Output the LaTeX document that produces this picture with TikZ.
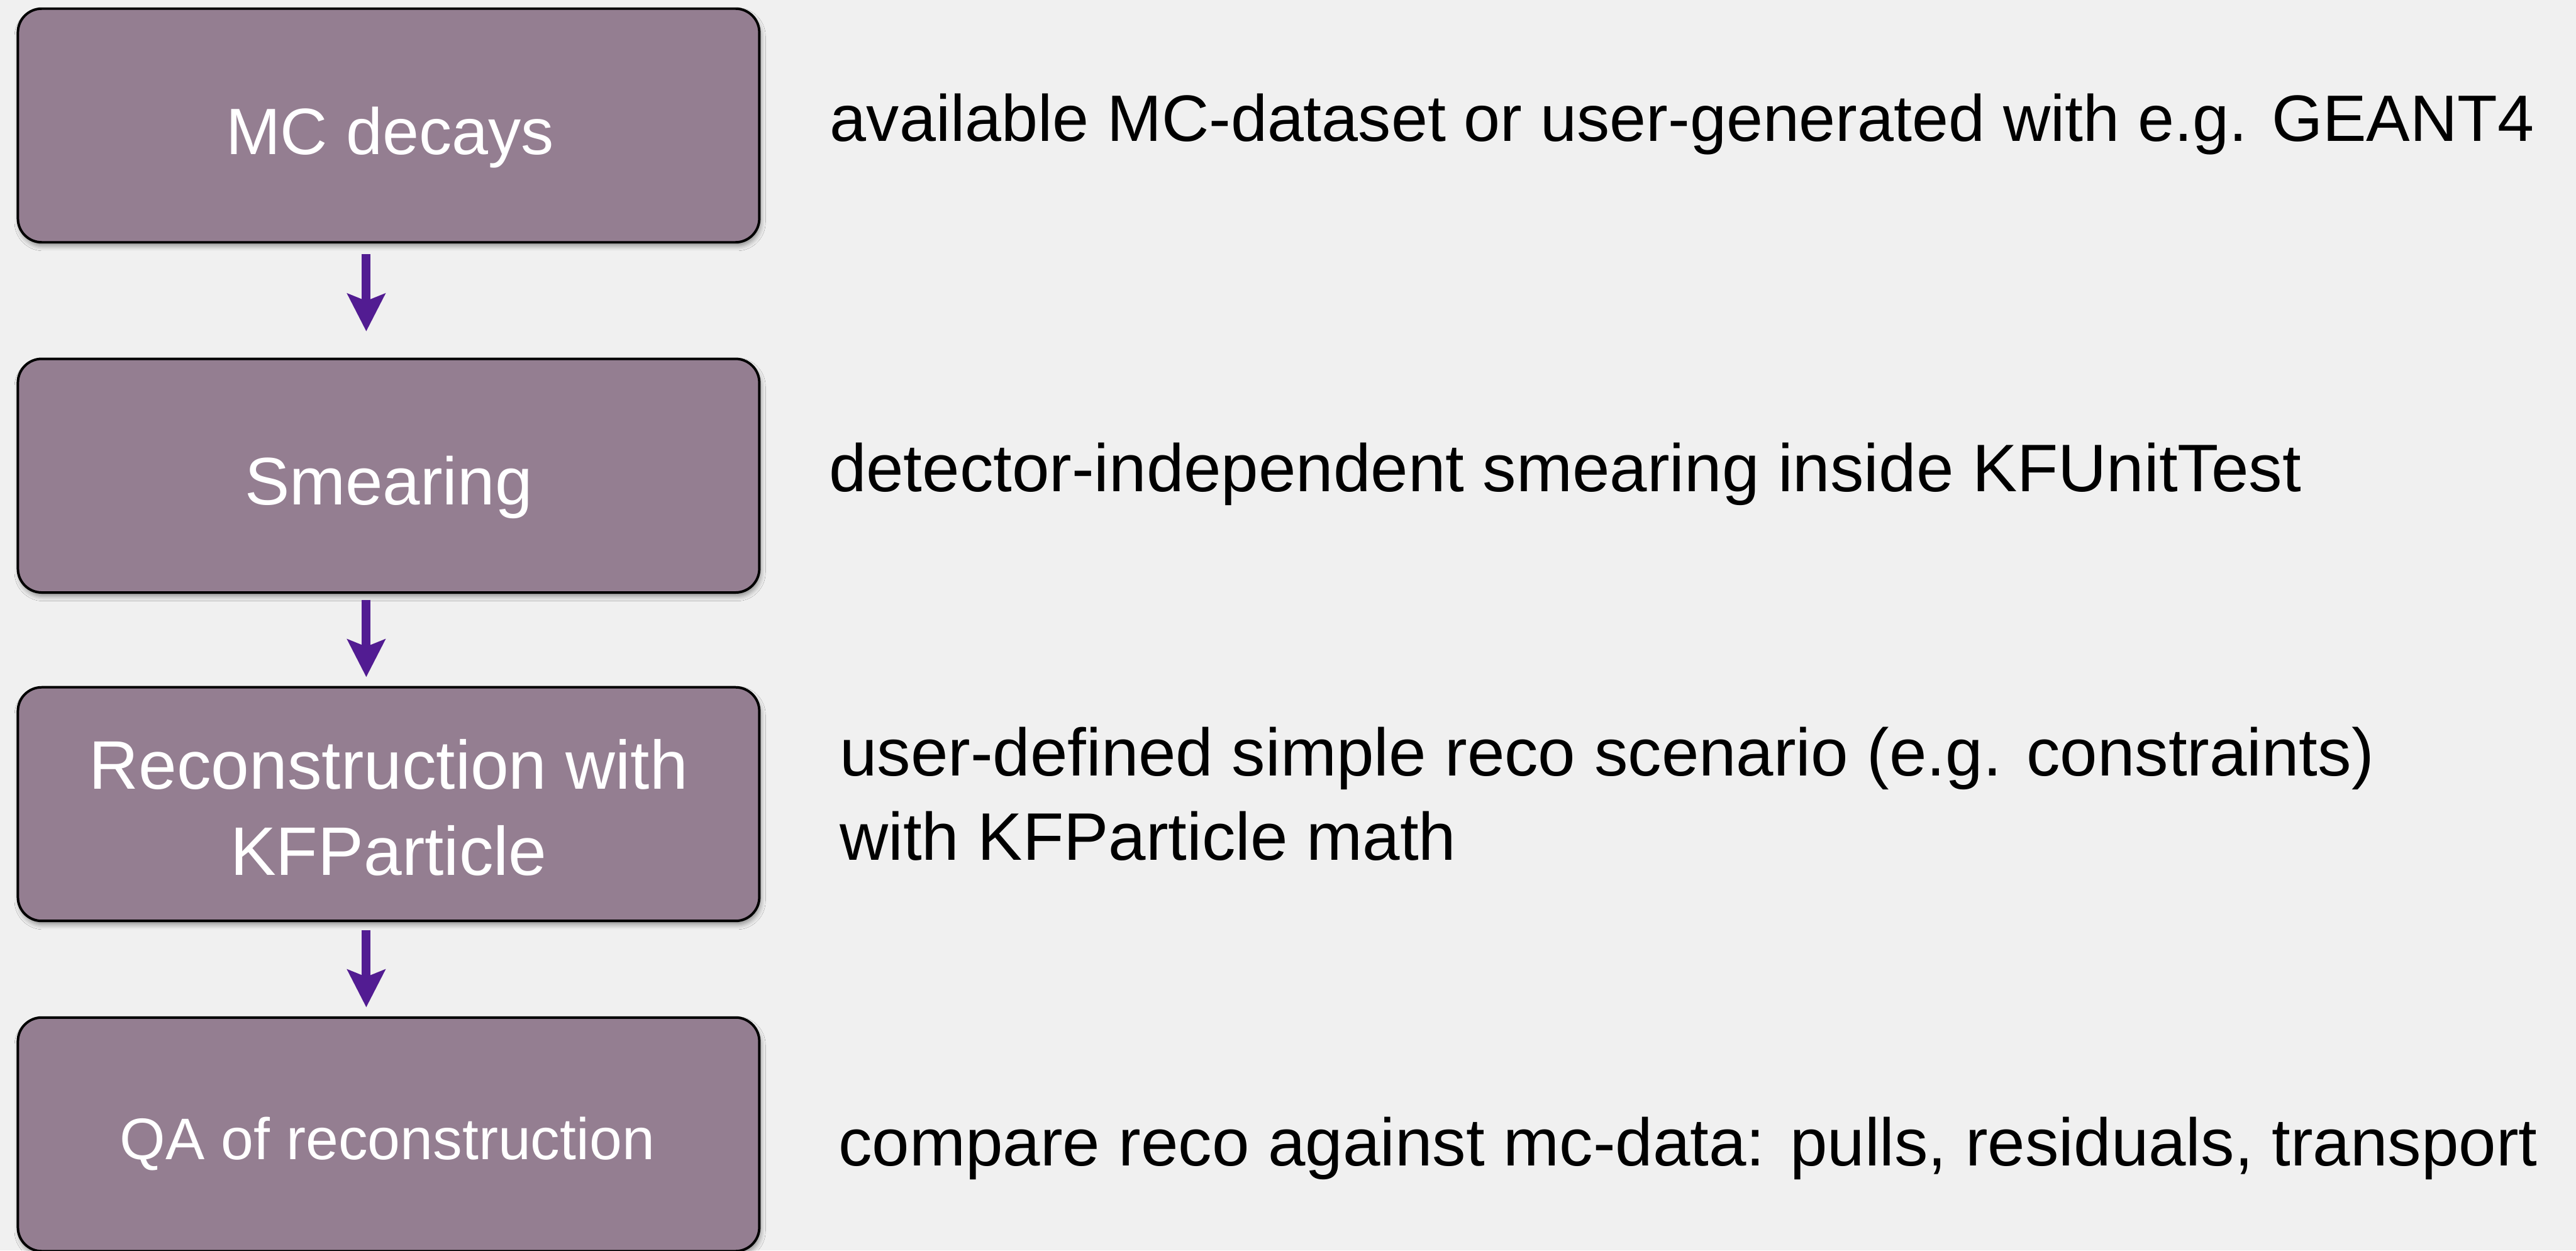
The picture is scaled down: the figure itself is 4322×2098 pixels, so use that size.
\documentclass[tikz,border=0pt]{standalone}
\usepackage{fontspec}
\setmainfont{Liberation Sans}
\usetikzlibrary{arrows.meta,calc,shadows.blur}
\definecolor{pagebg}{RGB}{240,240,240}
\definecolor{stagefill}{RGB}{148,126,145}
\definecolor{flowarrow}{RGB}{82,28,146}
\begin{document}
\begin{tikzpicture}[x=0.25pt,y=-0.25pt,
  stage/.style={draw=black, line width=1.05pt, fill=stagefill, rounded corners=10pt,
    minimum width=311pt, minimum height=98pt, inner sep=0pt,
    blur shadow={shadow xshift=0.6pt, shadow yshift=-1.6pt, shadow blur radius=2pt, shadow opacity=40}},
  stagetext/.style={text=white, inner sep=0pt, font=\fontsize{27.5}{36}\selectfont, anchor=base},
  note/.style={text=black, inner sep=0pt, font=\fontsize{28.2}{35.25}\selectfont, anchor=base west, align=left},
  flow/.style={draw=flowarrow, line width=3.75pt, -{Stealth[length=15.75pt, width=15.75pt, inset=3pt]}}
]
% page background
\fill[pagebg] (0,0) rectangle (4322,2098);
\useasboundingbox (0,0) rectangle (4322,2098);

% workflow stages
\node[stage] (b1) at (652,210.5) {};
\node[stage] (b2) at (652,798) {};
\node[stage] (b3) at (652,1349) {};
\node[stage] (b4) at (652,1903) {};

% stage captions (multi-line nodes sit on the baseline of their last line)
\node[stagetext] (t1) at ($(b1.center)+(2,48.5)$) {MC decays};
\node[stagetext, font=\fontsize{28.2}{36}\selectfont] (t2) at ($(b2.center)+(0,48.5)$) {Smearing};
\node[stagetext, align=center, font=\fontsize{28.8}{36}\selectfont] (t3) at ($(b3.center)+(0,119)$) {Reconstruction with\\KFParticle};
\node[stagetext, font=\fontsize{24.6}{30}\selectfont] (t4) at ($(b4.center)+(-2,42)$) {QA of reconstruction};

% flow arrows between stages
\draw[flow] ($(b1.south)+(-37.5,17.5)$) -- ($(b2.north)+(-37.5,-44)$);
\draw[flow] ($(b2.south)+(-37.5,10)$) -- ($(b3.north)+(-37.5,-15)$);
\draw[flow] ($(b3.south)+(-37.5,13)$) -- ($(b4.north)+(-37.5,-15)$);

% descriptions
\node[note, font=\fontsize{27.5}{35.25}\selectfont] (n1) at (1392,237) {available MC-dataset or user-generated with e.g. GEANT4};
\node[note] (n2) at (1390,825) {detector-independent smearing inside KFUnitTest};
\node[note] (n3) at (1408,1443) {user-defined simple reco scenario (e.g. constraints)\\with KFParticle math};
\node[note] (n4) at (1406,1956) {compare reco against mc-data: pulls, residuals, transport};
\end{tikzpicture}
\end{document}
